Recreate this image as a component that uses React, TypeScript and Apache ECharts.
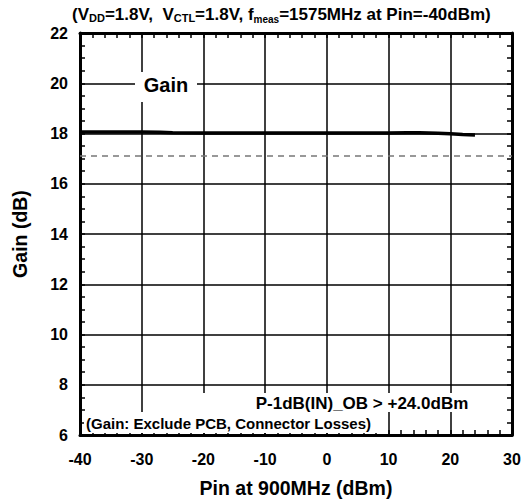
import React, { useEffect, useRef } from "react";
import * as echarts from "echarts";

const pinValues = [-40, -35, -30, -27, -25, -20, -10, 0, 10, 13, 15, 18, 20, 22, 24];
const gainValues = [18.06, 18.06, 18.06, 18.05, 18.03, 18.02, 18.02, 18.02, 18.02, 18.03, 18.03, 18.01, 17.99, 17.96, 17.94];
const specLine = 17.1;
const xTicks = [-40, -30, -20, -10, 0, 10, 20, 30];
const yTicks = [6, 8, 10, 12, 14, 16, 18, 20, 22];

const FONT = "'Liberation Sans', Arial, sans-serif";

export default function App() {
  const ref = useRef<HTMLDivElement>(null);
  useEffect(() => {
    const chart = echarts.init(ref.current!, undefined, { renderer: "svg" });
    const common = {
      axisLine: { show: true, onZero: false, lineStyle: { color: "#000", width: 3 } },
      axisTick: { show: true, inside: true, length: 5, lineStyle: { color: "#000", width: 1.5 } },
    };
    chart.setOption({
      animation: false,
      backgroundColor: "#fff",
      grid: { left: 80, right: 12, top: 33, bottom: 63 },
      xAxis: [
        {
          type: "value",
          min: xTicks[0],
          max: xTicks[xTicks.length - 1],
          interval: 10,
          position: "bottom",
          ...common,
          minorTick: { show: true, splitNumber: 5, length: 5, lineStyle: { color: "#000", width: 1.5 } },
          axisLabel: { color: "#000", fontFamily: FONT, fontWeight: "bold", fontSize: 16, margin: 16 },
          splitLine: { show: true, lineStyle: { color: "#000", width: 1.5 } },
          name: "Pin at 900MHz (dBm)",
          nameLocation: "middle",
          nameGap: 43,
          nameTextStyle: { color: "#000", fontFamily: FONT, fontWeight: "bold", fontSize: 19.5 },
        },
        {
          type: "value",
          min: xTicks[0],
          max: xTicks[xTicks.length - 1],
          interval: 10,
          position: "top",
          ...common,
          minorTick: { show: true, splitNumber: 5, length: 5, lineStyle: { color: "#000", width: 1.5 } },
          axisLabel: { show: false },
          splitLine: { show: false },
        },
      ],
      yAxis: [
        {
          type: "value",
          min: yTicks[0],
          max: yTicks[yTicks.length - 1],
          interval: 2,
          position: "left",
          ...common,
          minorTick: { show: true, splitNumber: 4, length: 5, lineStyle: { color: "#000", width: 1.5 } },
          axisLabel: { color: "#000", fontFamily: FONT, fontWeight: "bold", fontSize: 16, margin: 12 },
          splitLine: { show: true, lineStyle: { color: "#000", width: 1.5 } },
          name: "Gain (dB)",
          nameLocation: "middle",
          nameGap: 50,
          nameTextStyle: { color: "#000", fontFamily: FONT, fontWeight: "bold", fontSize: 19.5 },
        },
        {
          type: "value",
          min: yTicks[0],
          max: yTicks[yTicks.length - 1],
          interval: 2,
          position: "right",
          ...common,
          minorTick: { show: true, splitNumber: 4, length: 5, lineStyle: { color: "#000", width: 1.5 } },
          axisLabel: { show: false },
          splitLine: { show: false },
        },
      ],
      series: [
        {
          type: "line",
          data: pinValues.map((x, i) => [x, gainValues[i]]),
          showSymbol: false,
          lineStyle: { color: "#000", width: 3.5 },
          z: 5,
          markLine: {
            silent: true,
            symbol: "none",
            label: { show: false },
            lineStyle: { color: "#777", width: 1.5, type: [6, 5] },
            data: [{ yAxis: specLine }],
          },
        },
      ],
      graphic: [
        {
          type: "text",
          x: 72,
          y: 4,
          z: 20,
          style: {
            text: "{n|(V}{s|DD}{n|=1.8V,  V}{s|CTL}{n|=1.8V, f}{sub|meas}{n|=1575MHz at Pin=-40dBm)}",
            rich: {
              n: { fontFamily: FONT, fontWeight: "bold", fontSize: 17, fill: "#000" },
              s: { fontFamily: FONT, fontWeight: "bold", fontSize: 11, fill: "#000", verticalAlign: "bottom", padding: [0, 0, 1, 0] },
              sub: { fontFamily: FONT, fontWeight: "bold", fontSize: 10, fill: "#000", verticalAlign: "bottom", padding: [10, 0, 0, 0] },
            },
          },
        },
        { type: "rect", shape: { x: 135, y: 72, width: 62, height: 30 }, style: { fill: "#fff" }, z: 10 },
        {
          type: "text",
          x: 166,
          y: 85,
          z: 11,
          style: { text: "Gain", align: "center", verticalAlign: "middle", fontFamily: FONT, fontWeight: "bold", fontSize: 20, fill: "#000" },
        },
        { type: "rect", shape: { x: 200, y: 393, width: 282, height: 19 }, style: { fill: "#fff" }, z: 10 },
        {
          type: "text",
          x: 362,
          y: 403,
          z: 11,
          style: { text: "P-1dB(IN)_OB > +24.0dBm", align: "center", verticalAlign: "middle", fontFamily: FONT, fontWeight: "bold", fontSize: 17, fill: "#000" },
        },
        { type: "rect", shape: { x: 84, y: 412, width: 294, height: 21 }, style: { fill: "#fff" }, z: 10 },
        {
          type: "text",
          x: 86,
          y: 423,
          z: 11,
          style: { text: "(Gain: Exclude PCB, Connector Losses)", align: "left", verticalAlign: "middle", fontFamily: FONT, fontWeight: "bold", fontSize: 15, fill: "#000" },
        },
      ],
    });
    return () => chart.dispose();
  }, []);
  return <div ref={ref} style={{ width: 524, height: 503, position: "absolute", left: 0, top: 0 }} />;
}
